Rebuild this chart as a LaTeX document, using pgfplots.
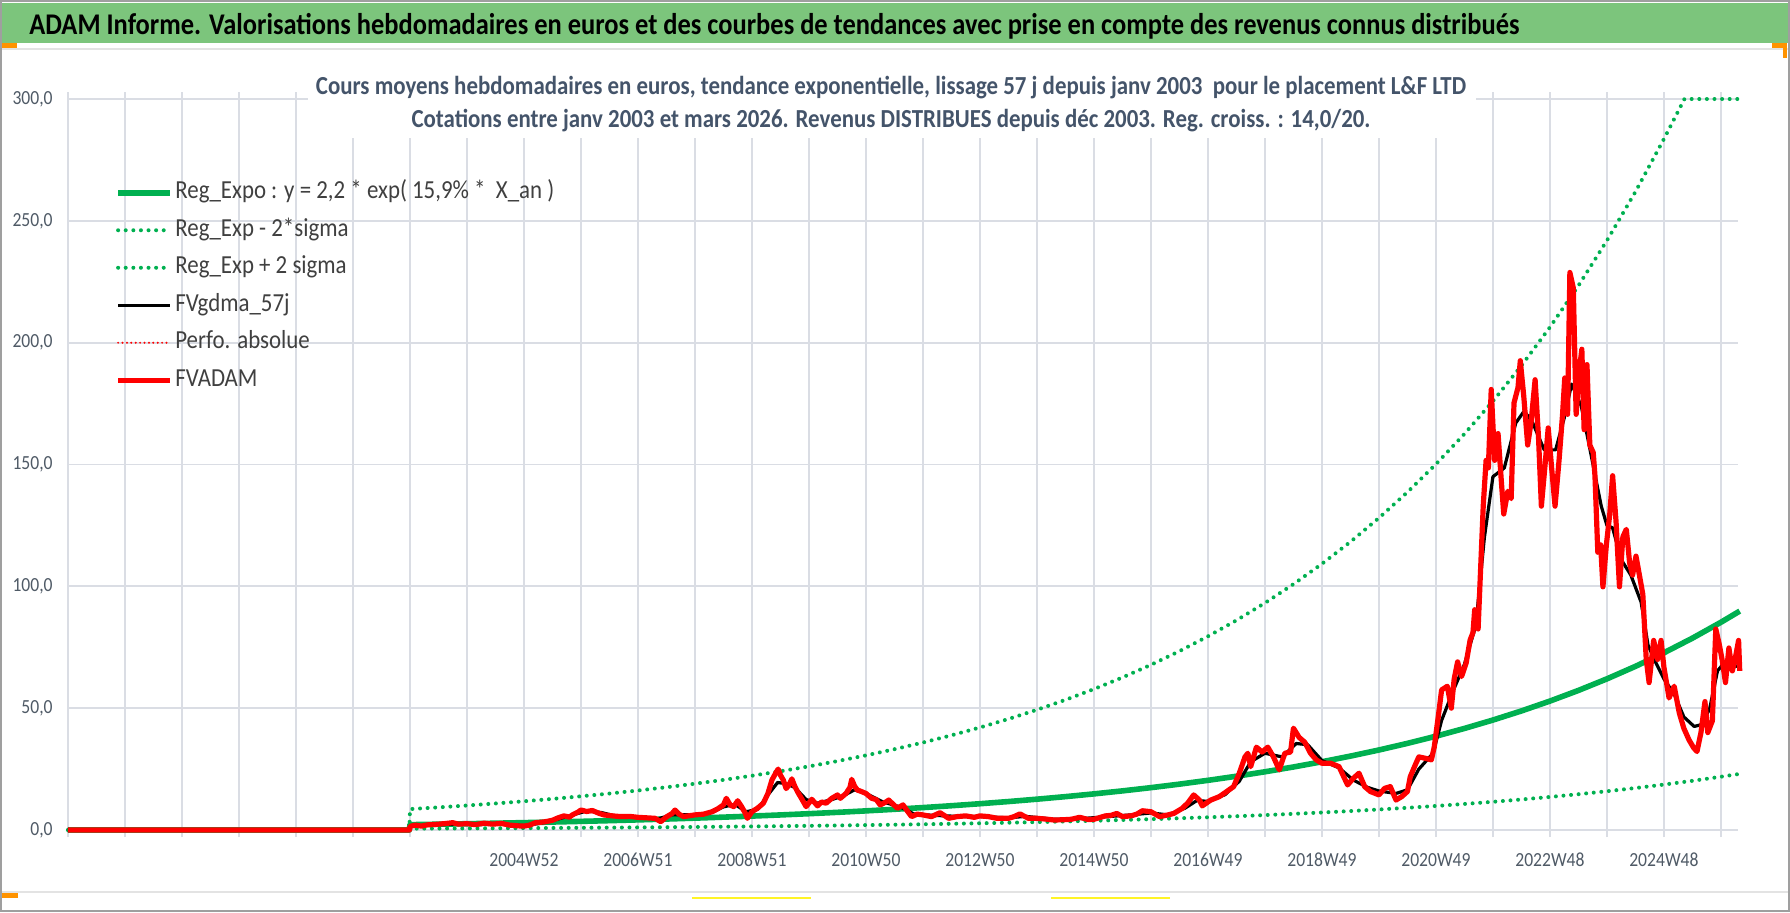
\documentclass[border=0pt]{standalone}
\usepackage{fontspec}
\setmainfont{Carlito}[FakeStretch=0.88]
\usepackage{graphicx}
\usepackage{pgfplots}
\usepackage{pgfplotstable}
\pgfplotsset{compat=1.18}
\definecolor{xgreen}{HTML}{00B050}
\definecolor{xred}{HTML}{FF0000}
\definecolor{barg}{RGB}{124,197,124}
\definecolor{titc}{HTML}{44546A}
\definecolor{tickc}{HTML}{4F5A66}
\definecolor{gridc}{HTML}{DADDE4}
\definecolor{legc}{HTML}{404040}

\pgfplotstableread{
t v
1997 0
2002.99 0
2003.0 2.200
2003.5 2.382
2004.0 2.579
2004.5 2.792
2005.0 3.024
2005.5 3.274
2006.0 3.545
2006.5 3.838
2007.0 4.156
2007.5 4.499
2008.0 4.872
2008.5 5.275
2009.0 5.711
2009.5 6.184
2010.0 6.696
2010.5 7.250
2011.0 7.850
2011.5 8.499
2012.0 9.202
2012.5 9.964
2013.0 10.788
2013.5 11.681
2014.0 12.648
2014.5 13.694
2015.0 14.827
2015.5 16.054
2016.0 17.383
2016.5 18.821
2017.0 20.379
2017.5 22.065
2018.0 23.891
2018.5 25.868
2019.0 28.009
2019.5 30.326
2020.0 32.836
2020.5 35.553
2021.0 38.495
2021.5 41.680
2022.0 45.129
2022.5 48.864
2023.0 52.907
2023.5 57.285
2024.0 62.025
2024.5 67.158
2025.0 72.715
2025.5 78.733
2026.0 85.248
2026.33 89.84
}\regexpo

\pgfplotstableread{
t v
1997 0
2002.99 0
2003.0 0.564
2003.5 0.611
2004.0 0.661
2004.5 0.716
2005.0 0.775
2005.5 0.839
2006.0 0.909
2006.5 0.984
2007.0 1.066
2007.5 1.154
2008.0 1.249
2008.5 1.353
2009.0 1.464
2009.5 1.586
2010.0 1.717
2010.5 1.859
2011.0 2.013
2011.5 2.179
2012.0 2.359
2012.5 2.555
2013.0 2.766
2013.5 2.995
2014.0 3.243
2014.5 3.511
2015.0 3.802
2015.5 4.116
2016.0 4.457
2016.5 4.826
2017.0 5.225
2017.5 5.658
2018.0 6.126
2018.5 6.633
2019.0 7.182
2019.5 7.776
2020.0 8.419
2020.5 9.116
2021.0 9.870
2021.5 10.687
2022.0 11.571
2022.5 12.529
2023.0 13.566
2023.5 14.688
2024.0 15.904
2024.5 17.220
2025.0 18.645
2025.5 20.188
2026.0 21.858
2026.33 23.03
}\reglow

\pgfplotstableread{
t v
1997 0
2002.99 0
2003.0 8.58
2003.5 9.29
2004.0 10.06
2004.5 10.89
2005.0 11.79
2005.5 12.77
2006.0 13.83
2006.5 14.97
2007.0 16.21
2007.5 17.55
2008.0 19.00
2008.5 20.57
2009.0 22.27
2009.5 24.12
2010.0 26.11
2010.5 28.28
2011.0 30.62
2011.5 33.15
2012.0 35.89
2012.5 38.86
2013.0 42.07
2013.5 45.56
2014.0 49.33
2014.5 53.41
2015.0 57.83
2015.5 62.61
2016.0 67.79
2016.5 73.40
2017.0 79.48
2017.5 86.05
2018.0 93.17
2018.5 100.89
2019.0 109.24
2019.5 118.27
2020.0 128.06
2020.5 138.66
2021.0 150.13
2021.5 162.55
2022.0 176.00
2022.5 190.57
2023.0 206.34
2023.5 223.41
2024.0 241.90
2024.5 261.92
2025.0 283.59
2025.36 300
2026.33 300
}\reghigh

\pgfplotstableread{
t v
1997 0
2002.99 0
2003.0 1.5
2003.5 2.2
2004.0 2.6
2004.5 2.5
2005.0 1.8
2005.3 2.8
2005.6 4.5
2005.9 6.5
2006.1 7.8
2006.35 7.2
2006.6 5.8
2007.0 5.2
2007.35 4.6
2007.6 6.2
2007.8 6.3
2008.0 6.2
2008.3 7.2
2008.5 9.5
2008.7 10.5
2008.9 7.5
2009.1 8.5
2009.3 15.0
2009.45 19.5
2009.6 19.0
2009.75 17.5
2009.95 12.5
2010.15 11.0
2010.4 12.5
2010.6 14.0
2010.8 16.5
2011.0 15.0
2011.3 11.5
2011.6 9.5
2011.85 6.5
2012.2 6.0
2012.6 5.6
2013.0 5.5
2013.5 5.0
2013.8 5.6
2014.3 4.4
2014.8 4.7
2015.3 5.6
2015.7 6.3
2016.0 7.0
2016.3 6.2
2016.6 9.0
2016.8 12.0
2017.0 11.8
2017.3 14.5
2017.55 20.0
2017.75 28.0
2018.0 31.5
2018.3 30.0
2018.55 35.5
2018.75 35.0
2019.0 28.5
2019.3 25.5
2019.55 20.5
2019.8 17.5
2020.0 16.0
2020.3 15.0
2020.5 16.5
2020.7 25.0
2020.95 31.5
2021.1 45.0
2021.3 57.0
2021.5 68.0
2021.7 84.0
2021.85 120.0
2022.0 145.0
2022.2 148.6
2022.4 167.0
2022.55 172.0
2022.7 167.0
2022.9 156.0
2023.1 156.0
2023.25 169.0
2023.38 183.0
2023.55 174.0
2023.73 153.0
2023.9 133.0
2024.0 125.0
2024.1 124.0
2024.25 111.0
2024.42 104.6
2024.6 93.5
2024.72 76.0
2024.83 70.0
2025.0 62.0
2025.18 55.8
2025.35 46.4
2025.53 42.5
2025.65 43.2
2025.8 49.5
2025.94 65.3
2026.05 68.4
2026.2 66.8
2026.33 67.6
}\gdma

\pgfplotstableread{
t v
1997.0 0
2002.99 0
2003.0 1.5
2003.1 2.0
2003.2 1.6
2003.3 2.1
2003.45 2.3
2003.6 2.6
2003.75 3.0
2003.85 2.4
2004.0 2.6
2004.15 2.2
2004.3 2.8
2004.45 2.4
2004.6 2.7
2004.75 2.0
2004.9 1.7
2005.0 1.6
2005.1 2.0
2005.2 3.0
2005.35 3.3
2005.5 4.0
2005.6 5.0
2005.7 5.8
2005.8 5.3
2005.85 6.2
2005.95 7.4
2006.0 8.2
2006.1 7.6
2006.2 8.0
2006.3 7.0
2006.4 6.2
2006.55 5.8
2006.7 5.5
2006.85 5.6
2007.0 5.2
2007.15 5.0
2007.3 4.8
2007.4 3.4
2007.5 5.4
2007.6 6.8
2007.65 8.2
2007.72 6.5
2007.8 5.5
2008.0 6.2
2008.15 6.5
2008.3 7.5
2008.4 8.7
2008.5 10.3
2008.55 13.0
2008.62 10.2
2008.68 9.6
2008.75 12.0
2008.82 9.5
2008.88 7.0
2008.92 4.8
2009.0 7.5
2009.1 9.0
2009.2 11.0
2009.28 15.0
2009.35 20.5
2009.42 23.5
2009.46 25.0
2009.5 22.5
2009.55 20.5
2009.6 17.0
2009.65 18.5
2009.7 21.0
2009.75 18.0
2009.8 15.7
2009.88 12.5
2009.95 9.6
2010.05 12.6
2010.15 9.9
2010.22 11.5
2010.3 11.0
2010.4 13.0
2010.5 14.4
2010.55 13.0
2010.65 15.0
2010.72 17.5
2010.75 20.8
2010.8 18.0
2010.85 16.4
2010.92 15.8
2011.0 15.0
2011.1 13.0
2011.18 12.5
2011.25 10.3
2011.35 11.5
2011.4 12.3
2011.48 10.5
2011.55 8.9
2011.65 10.3
2011.72 8.0
2011.8 5.5
2011.9 6.5
2012.0 6.2
2012.15 5.5
2012.3 7.1
2012.45 4.8
2012.6 5.5
2012.75 5.8
2012.9 5.2
2013.0 5.8
2013.15 5.5
2013.3 4.8
2013.5 4.8
2013.6 5.5
2013.7 6.6
2013.85 4.8
2014.0 4.8
2014.15 4.5
2014.3 4.1
2014.45 4.2
2014.6 4.4
2014.75 5.2
2014.9 4.3
2015.0 4.4
2015.2 5.8
2015.3 6.0
2015.4 6.8
2015.5 5.5
2015.65 5.8
2015.75 6.5
2015.85 7.9
2016.0 7.5
2016.15 5.5
2016.3 6.2
2016.4 6.8
2016.55 8.9
2016.65 11.2
2016.75 14.4
2016.85 12.3
2016.9 9.9
2017.05 12.3
2017.2 13.7
2017.3 15.3
2017.45 17.8
2017.55 23.3
2017.65 30.0
2017.7 31.5
2017.75 26.0
2017.85 34.0
2017.95 32.0
2018.05 34.0
2018.15 30.0
2018.25 24.7
2018.35 31.5
2018.45 32.0
2018.5 41.8
2018.6 38.0
2018.7 36.0
2018.8 31.5
2018.9 28.8
2019.0 27.4
2019.15 27.4
2019.3 26.0
2019.45 18.5
2019.55 21.2
2019.65 23.3
2019.75 17.8
2019.85 15.8
2020.0 14.4
2020.1 17.1
2020.2 17.8
2020.3 12.3
2020.4 13.7
2020.5 15.8
2020.55 21.9
2020.65 27.4
2020.7 30.0
2020.8 29.5
2020.92 28.8
2020.97 34.0
2021.04 46.4
2021.1 57.5
2021.2 59.0
2021.27 50.0
2021.32 62.0
2021.38 69.0
2021.45 63.0
2021.53 68.5
2021.6 78.0
2021.65 81.0
2021.68 90.4
2021.74 82.5
2021.83 133.0
2021.88 151.7
2021.92 148.6
2021.97 180.8
2022.03 151.7
2022.09 162.7
2022.15 142.3
2022.19 129.7
2022.26 139.0
2022.32 136.0
2022.37 175.3
2022.44 181.6
2022.48 192.6
2022.54 178.3
2022.61 158.0
2022.67 167.5
2022.74 184.8
2022.8 161.0
2022.85 132.9
2022.91 148.6
2022.97 165.0
2023.03 148.6
2023.09 132.9
2023.16 151.7
2023.22 170.0
2023.26 185.5
2023.31 170.6
2023.35 228.8
2023.41 222.5
2023.46 170.6
2023.52 189.5
2023.56 197.3
2023.6 164.3
2023.65 191.0
2023.7 158.0
2023.76 154.9
2023.79 145.4
2023.84 114.0
2023.89 117.0
2023.93 99.8
2023.99 117.0
2024.05 129.7
2024.1 145.4
2024.16 126.6
2024.22 99.8
2024.28 120.3
2024.34 123.4
2024.4 109.3
2024.45 104.6
2024.51 112.4
2024.57 104.6
2024.63 96.7
2024.69 70.0
2024.74 60.5
2024.82 77.8
2024.89 70.0
2024.95 77.8
2025.0 66.8
2025.09 54.2
2025.18 59.0
2025.27 48.0
2025.35 41.7
2025.44 37.0
2025.52 33.8
2025.58 32.2
2025.65 40.0
2025.72 52.7
2025.77 40.0
2025.85 44.8
2025.91 82.5
2025.97 76.3
2026.02 70.0
2026.08 60.5
2026.14 74.7
2026.2 65.3
2026.26 71.5
2026.31 77.8
2026.33 65.3
}\fvadam

\begin{document}
\begin{tikzpicture}[x=1pt,y=1pt]
\useasboundingbox (0,0) rectangle (895,456);
\fill[white] (0,0) rectangle (895,456);
\fill[barg] (1,434.5) rectangle (894,454.5);
\draw[gray!22, line width=0.8pt] (1,431.5) -- (894,431.5);
\draw[gray!22, line width=0.8pt] (1,10) -- (894,10);
\fill[orange!85!yellow] (0,432) rectangle (8.5,434.5);
\fill[orange!85!yellow] (886,432) rectangle (893.5,434.5);
\fill[orange!85!yellow] (891.5,427) rectangle (893.5,434.5);
\fill[orange!85!yellow] (0,7) rectangle (9,9.5);
\draw[yellow!85, line width=0.9pt] (346,7) -- (405.5,7);
\draw[yellow!85, line width=0.9pt] (525.5,7) -- (585,7);
\draw[gray!75, line width=1pt] (0.5,0.5) rectangle (894.5,455.5);
\node[anchor=base west, inner sep=0pt] at (14.5,438.7) {\resizebox{745pt}{!}{\fontsize{13}{13}\selectfont\bfseries ADAM Informe. Valorisations hebdomadaires en euros et des courbes de tendances avec prise en compte des revenus connus distribués}};

\begin{axis}[
  at={(34pt,41pt)}, anchor=south west, scale only axis,
  width=835pt, height=365.5pt,
  xmin=1997, xmax=2026.3, ymin=0, ymax=300,
  xtick={1997,1998,...,2026},
  xticklabels={,,,,,,,,2004W52,,2006W51,,2008W51,,2010W50,,2012W50,,2014W50,,2016W49,,2018W49,,2020W49,,2022W48,,2024W48,},
  ytick={0,50,...,300},
  grid=major, grid style={gridc, line width=0.9pt},
  axis line style={draw=none},
  tick align=outside, major tick length=3.5pt,
  xtick style={gridc, line width=0.9pt},
  ytick style={draw=none},
  ticklabel style={font=\fontsize{10}{12}\selectfont, text=tickc},
  xticklabel style={yshift=-4.5pt},
  yticklabel style={anchor=east, inner sep=0pt, xshift=-4pt},
  /pgf/number format/fixed, /pgf/number format/fixed zerofill,
  /pgf/number format/precision=1, /pgf/number format/use comma,
  /pgf/number format/assume math mode=true,
  clip=false,
  legend cell align=left,
  legend image code/.code={\draw[#1] (0pt,0pt) -- (26pt,0pt);},
  legend style={at={(axis description cs:0.0281,0.892)}, anchor=north west,
    draw=none, fill=none, font=\fontsize{13}{13}\selectfont, text=legc,
    row sep=4.35pt, inner sep=0pt,
    nodes={inner sep=1.2pt, text height=9pt, text depth=3pt}},
]
\addplot[xgreen, line width=2.8pt, line join=round] table[x=t,y=v] {\regexpo};
\addlegendentry{Reg\_Expo : y = 2,2 * exp( 15,9\% *\ \ X\_an )}
\addplot[xgreen, line width=2pt, line cap=round, dash pattern=on 0pt off 3.8pt] table[x=t,y=v] {\reglow};
\addlegendentry{Reg\_Exp - 2*sigma}
\addplot[xgreen, line width=2pt, line cap=round, dash pattern=on 0pt off 3.8pt] table[x=t,y=v] {\reghigh};
\addlegendentry{Reg\_Exp + 2 sigma}
\addplot[black, line width=1.6pt, line join=round] table[x=t,y=v] {\gdma};
\addlegendentry{FVgdma\_57j}
\addlegendimage{xred, line width=1.1pt, line cap=round, dash pattern=on 0pt off 2.2pt}
\addlegendentry{Perfo. absolue}
\addplot[xred, line width=2.6pt, line join=round] table[x=t,y=v] {\fvadam};
\addlegendentry{FVADAM}
\end{axis}

\fill[white] (154,387) rectangle (738,425);
\node[text=titc, inner sep=0pt, anchor=base] at (445.5,408.5) {\fontsize{13}{13}\selectfont\bfseries Cours moyens hebdomadaires en euros, tendance exponentielle, lissage 57 j depuis janv 2003\ \ pour le placement L\&F LTD};
\node[text=titc, inner sep=0pt, anchor=base] at (445.5,392.3) {\fontsize{13}{13}\selectfont\bfseries Cotations entre janv 2003 et mars 2026. Revenus DISTRIBUES depuis déc 2003. Reg. croiss. : 14,0/20.};
\end{tikzpicture}
\end{document}
